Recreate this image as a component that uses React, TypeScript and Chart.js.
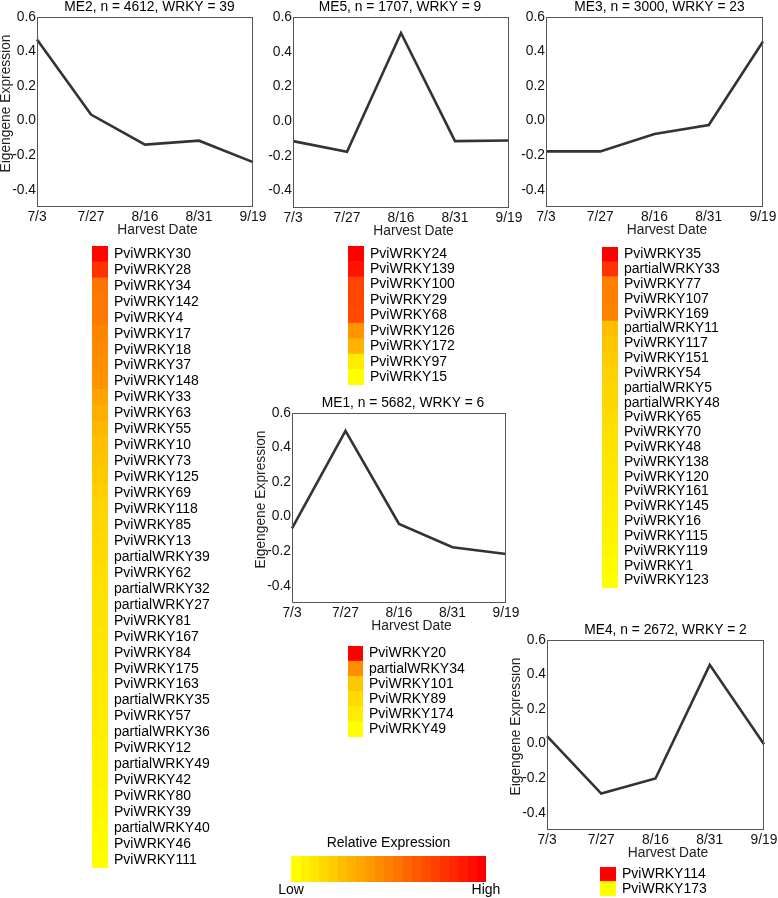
import React, { useEffect, useRef } from "react";
import { Chart, registerables } from "chart.js";

Chart.register(...registerables);

// ---------- data ----------
const harvestDates = ["7/3", "7/27", "8/16", "8/31", "9/19"];
const yTickValues = [-0.4, -0.2, 0.0, 0.2, 0.4, 0.6];
const yMin = -0.5;
const yMax = 0.6;

const me2Values = [0.47, 0.035, -0.139, -0.116, -0.24];
const me5Values = [-0.115, -0.176, 0.508, -0.115, -0.111];
const me3Values = [-0.178, -0.178, -0.077, -0.025, 0.458];
const me1Values = [-0.068, 0.497, -0.042, -0.177, -0.216];
const me4Values = [0.044, -0.289, -0.202, 0.456, -0.004];

const me2Genes = [
  "PviWRKY30", "PviWRKY28", "PviWRKY34", "PviWRKY142", "PviWRKY4", "PviWRKY17",
  "PviWRKY18", "PviWRKY37", "PviWRKY148", "PviWRKY33", "PviWRKY63", "PviWRKY55",
  "PviWRKY10", "PviWRKY73", "PviWRKY125", "PviWRKY69", "PviWRKY118", "PviWRKY85",
  "PviWRKY13", "partialWRKY39", "PviWRKY62", "partialWRKY32", "partialWRKY27",
  "PviWRKY81", "PviWRKY167", "PviWRKY84", "PviWRKY175", "PviWRKY163",
  "partialWRKY35", "PviWRKY57", "partialWRKY36", "PviWRKY12", "partialWRKY49",
  "PviWRKY42", "PviWRKY80", "PviWRKY39", "partialWRKY40", "PviWRKY46", "PviWRKY111",
];
const me2Levels = [
  0.98, 0.8, 0.55, 0.53, 0.52, 0.48, 0.46, 0.44, 0.42, 0.36, 0.32, 0.28, 0.25,
  0.23, 0.21, 0.19, 0.17, 0.16, 0.15, 0.14, 0.13, 0.12, 0.115, 0.11, 0.1, 0.095,
  0.09, 0.085, 0.08, 0.075, 0.07, 0.06, 0.055, 0.05, 0.04, 0.03, 0.02, 0.01, 0.0,
];

const me5Genes = [
  "PviWRKY24", "PviWRKY139", "PviWRKY100", "PviWRKY29", "PviWRKY68",
  "PviWRKY126", "PviWRKY172", "PviWRKY97", "PviWRKY15",
];
const me5Levels = [1.0, 0.93, 0.73, 0.72, 0.71, 0.42, 0.3, 0.07, 0.0];

const me3Genes = [
  "PviWRKY35", "partialWRKY33", "PviWRKY77", "PviWRKY107", "PviWRKY169",
  "partialWRKY11", "PviWRKY117", "PviWRKY151", "PviWRKY54", "partialWRKY5",
  "partialWRKY48", "PviWRKY65", "PviWRKY70", "PviWRKY48", "PviWRKY138",
  "PviWRKY120", "PviWRKY161", "PviWRKY145", "PviWRKY16", "PviWRKY115",
  "PviWRKY119", "PviWRKY1", "PviWRKY123",
];
const me3Levels = [
  1.0, 0.8, 0.5, 0.5, 0.49, 0.25, 0.22, 0.2, 0.18, 0.17, 0.16, 0.14, 0.12, 0.11,
  0.1, 0.09, 0.08, 0.07, 0.06, 0.05, 0.03, 0.01, 0.0,
];

const me1Genes = [
  "PviWRKY20", "partialWRKY34", "PviWRKY101", "PviWRKY89", "PviWRKY174", "PviWRKY49",
];
const me1Levels = [1.0, 0.44, 0.22, 0.14, 0.07, 0.0];

const me4Genes = ["PviWRKY114", "PviWRKY173"];
const me4Levels = [1.0, 0.0];

const legendLevels = [
  0, 0.05, 0.1, 0.15, 0.2, 0.25, 0.3, 0.35, 0.4, 0.45, 0.5, 0.55, 0.6, 0.65,
  0.7, 0.75, 0.8, 0.85, 0.9, 0.95, 1.0,
];
const legendTickLabels = ["Low", "High"];

// ---------- styling / layout ----------
const FONT = '"Liberation Sans", Arial, Helvetica, sans-serif';
const TEXT = "#000";
const expressionColor = (v: number) =>
  `rgb(255, ${Math.round(255 * (1 - v))}, 0)`;

const Y_W = 37;
const TOP_H = 17;
const X_H = 36;
const RIGHT_PAD = 16;

const panelTextPlugin = {
  id: "panelText",
  afterDraw(chart: any, _args: any, opts: any) {
    const { ctx, chartArea: a } = chart;
    ctx.save();
    ctx.strokeStyle = "#555";
    ctx.lineWidth = 1;
    ctx.strokeRect(
      Math.round(a.left) + 0.5,
      Math.round(a.top) + 0.5,
      Math.round(a.right) - Math.round(a.left) - 1,
      Math.round(a.bottom) - Math.round(a.top) - 1
    );
    const cx = (a.left + a.right) / 2;
    ctx.fillStyle = TEXT;
    ctx.font = `13.8px ${FONT}`;
    ctx.textAlign = "center";
    ctx.textBaseline = "middle";
    ctx.fillText(opts.title, cx + opts.titleDx, a.top - 10);
    ctx.fillStyle = "#222";
    ctx.fillText("Harvest Date", cx + 12.5, a.bottom + 23);
    if (opts.yTitle) {
      ctx.translate(a.left - 31, (a.top + a.bottom) / 2 - 8.5);
      ctx.rotate(-Math.PI / 2);
      ctx.fillText("Eigengene Expression", 0, 0);
    }
    ctx.restore();
  },
};

type PanelProps = {
  title: string;
  values: number[];
  box: number[];
  titleDx: number;
  yTitle: boolean;
};

function LinePanel({ title, values, box, titleDx, yTitle }: PanelProps) {
  const ref = useRef<HTMLCanvasElement>(null);
  const [L, T, R, B] = box;
  const width = R - L + Y_W + RIGHT_PAD;
  const height = B - T + TOP_H + X_H;
  useEffect(() => {
    const chart = new Chart(ref.current as HTMLCanvasElement, {
      type: "line",
      data: {
        labels: harvestDates,
        datasets: [
          {
            data: values,
            borderColor: "#333",
            borderWidth: 2.6,
            pointRadius: 0,
            fill: false,
            tension: 0,
          },
        ],
      },
      options: {
        responsive: false,
        animation: false,
        layout: { padding: { top: TOP_H, right: RIGHT_PAD, left: 0, bottom: 0 } },
        plugins: {
          legend: { display: false },
          tooltip: { enabled: false },
          title: { display: false },
          panelText: { title, titleDx, yTitle },
        } as any,
        scales: {
          x: {
            type: "category",
            offset: false,
            grid: { display: false, drawTicks: false },
            border: { display: false },
            ticks: {
              font: { family: FONT, size: 13.8 },
              color: "#111",
              padding: 2,
              maxRotation: 0,
              autoSkip: false,
            },
            afterFit: (s: any) => {
              s.height = X_H;
              s.paddingLeft = 0;
              s.paddingRight = 0;
            },
          },
          y: {
            min: yMin,
            max: yMax,
            grid: { display: false, drawTicks: false },
            border: { display: false },
            ticks: {
              font: { family: FONT, size: 13.8 },
              color: "#111",
              padding: 1,
              callback: (v: any) => Number(v).toFixed(1),
            },
            afterBuildTicks: (s: any) => {
              s.ticks = yTickValues.map((v) => ({ value: v }));
            },
            afterFit: (s: any) => {
              s.width = Y_W;
              s.paddingTop = 0;
              s.paddingBottom = 0;
            },
          },
        },
      } as any,
      plugins: [panelTextPlugin],
    });
    return () => chart.destroy();
  }, []);
  return (
    <canvas
      ref={ref}
      width={width}
      height={height}
      style={{ position: "absolute", left: L - Y_W, top: T - TOP_H }}
    />
  );
}

type StripProps = { genes: string[]; levels: number[]; box: number[] };
const LABEL_W = 120;

function GeneStrip({ genes, levels, box }: StripProps) {
  const ref = useRef<HTMLCanvasElement>(null);
  const [L, T, R, B] = box;
  const width = R - L + LABEL_W;
  const height = B - T;
  useEffect(() => {
    const chart = new Chart(ref.current as HTMLCanvasElement, {
      type: "bar",
      data: {
        labels: genes,
        datasets: [
          {
            data: genes.map(() => 1),
            backgroundColor: levels.map(expressionColor),
            borderWidth: 0,
            barPercentage: 1,
            categoryPercentage: 1,
          },
        ],
      },
      options: {
        indexAxis: "y",
        responsive: false,
        animation: false,
        layout: { padding: 0 },
        plugins: { legend: { display: false }, tooltip: { enabled: false } },
        scales: {
          x: { display: false, min: 0, max: 1 },
          y: {
            position: "right",
            grid: { display: false, drawTicks: false },
            border: { display: false },
            ticks: {
              font: { family: FONT, size: 14 },
              color: TEXT,
              padding: 6,
              autoSkip: false,
            },
            afterFit: (s: any) => {
              s.width = LABEL_W;
              s.paddingTop = 0;
              s.paddingBottom = 0;
            },
          },
        },
      } as any,
    });
    return () => chart.destroy();
  }, []);
  return (
    <canvas
      ref={ref}
      width={width}
      height={height}
      style={{ position: "absolute", left: L, top: T }}
    />
  );
}

function ColorLegend() {
  const ref = useRef<HTMLCanvasElement>(null);
  const barL = 291;
  const barR = 486;
  const pad = 20;
  const top = 826;
  const width = barR - barL + 2 * pad;
  const height = 72;
  useEffect(() => {
    const n = legendLevels.length;
    const chart = new Chart(ref.current as HTMLCanvasElement, {
      type: "bar",
      data: {
        labels: ["Relative Expression"],
        datasets: legendLevels.map((v) => ({
          data: [1],
          backgroundColor: expressionColor(v),
          borderWidth: 0,
          barPercentage: 1,
          categoryPercentage: 1,
        })),
      },
      options: {
        indexAxis: "y",
        responsive: false,
        animation: false,
        layout: { padding: { left: pad, right: pad, top: 0, bottom: 0 } },
        plugins: {
          legend: { display: false },
          tooltip: { enabled: false },
          title: {
            display: true,
            text: "Relative Expression",
            color: TEXT,
            font: { family: FONT, size: 14, weight: "normal" },
            padding: { top: 8.6, bottom: 4.6 },
          },
        },
        scales: {
          x: {
            stacked: true,
            min: 0,
            max: n,
            grid: { display: false, drawTicks: false },
            border: { display: false },
            ticks: {
              font: { family: FONT, size: 14 },
              color: TEXT,
              padding: 0,
              autoSkip: false,
              maxRotation: 0,
              callback: (v: any) => (Number(v) === 0 ? legendTickLabels[0] : legendTickLabels[1]),
            },
            afterBuildTicks: (s: any) => {
              s.ticks = [{ value: 0 }, { value: n }];
            },
            afterFit: (s: any) => {
              s.height = 16;
              s.paddingLeft = 0;
              s.paddingRight = 0;
            },
          },
          y: { stacked: true, display: false },
        },
      } as any,
    });
    return () => chart.destroy();
  }, []);
  return (
    <canvas
      ref={ref}
      width={width}
      height={height}
      style={{ position: "absolute", left: barL - pad, top }}
    />
  );
}

const panels: PanelProps[] = [
  { title: "ME2, n = 4612, WRKY = 39", values: me2Values, box: [37, 17, 253, 207], titleDx: 4.5, yTitle: true },
  { title: "ME5, n = 1707, WRKY = 9", values: me5Values, box: [293, 17, 509, 208], titleDx: -1, yTitle: false },
  { title: "ME3, n = 3000, WRKY = 23", values: me3Values, box: [546, 17, 763, 207], titleDx: 5, yTitle: false },
  { title: "ME1, n = 5682, WRKY = 6", values: me1Values, box: [292, 413, 506, 603], titleDx: 4, yTitle: true },
  { title: "ME4, n = 2672, WRKY = 2", values: me4Values, box: [547, 640, 764, 830], titleDx: 10, yTitle: true },
];

const strips: StripProps[] = [
  { genes: me2Genes, levels: me2Levels, box: [92, 246, 108, 868] },
  { genes: me5Genes, levels: me5Levels, box: [348, 246, 364, 385] },
  { genes: me3Genes, levels: me3Levels, box: [602, 247, 618, 588] },
  { genes: me1Genes, levels: me1Levels, box: [348, 646, 363, 737] },
  { genes: me4Genes, levels: me4Levels, box: [600, 867, 616, 896] },
];

export default function App() {
  return (
    <div
      style={{
        position: "absolute",
        left: 0,
        top: 0,
        width: 778,
        height: 898,
        overflow: "hidden",
        background: "#fff",
      }}
    >
      {panels.map((p) => (
        <LinePanel key={p.title} {...p} />
      ))}
      {strips.map((s) => (
        <GeneStrip key={s.genes[0]} {...s} />
      ))}
      <ColorLegend />
    </div>
  );
}
